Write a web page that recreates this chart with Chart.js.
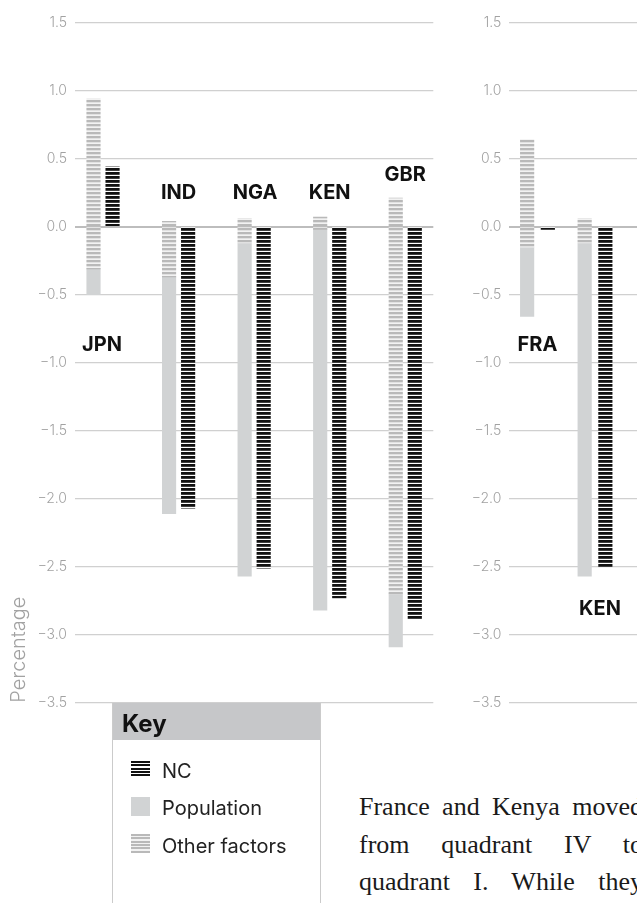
<!DOCTYPE html>
<html>
<head>
<meta charset="utf-8">
<script src="https://cdn.jsdelivr.net/npm/chart.js@4.4.1/dist/chart.umd.min.js"></script>
<style>
  html, body { margin: 0; padding: 0; background: #fff; }
  body { width: 637px; height: 903px; position: relative; overflow: hidden; font-family: Inter, "Noto Sans", sans-serif; }
  canvas { position: absolute; top: 0; }
  #leftChart { left: 0; }
  #rightChart { left: 440px; }
  .key { position: absolute; left: 112px; top: 703px; width: 207px; height: 220px;
         border-left: 1.5px solid #cbcbcb; border-right: 1.5px solid #cbcbcb; }
  .key-head { position: absolute; left: 0; top: 0; width: 100%; height: 37px; background: #c6c7c9; }
  .abs { position: absolute; white-space: nowrap; }
  .key-title { left: 122px; top: 709px; line-height: 30px; font-size: 24px; font-weight: 700; color: #111; }
  .key-text { left: 162px; line-height: 24px; font-size: 20px; color: #222; }
  .sw { position: absolute; left: 131px; width: 19px; }
  .sw.nc { background: repeating-linear-gradient(to bottom, #111 0 2.2px, #fff 2.2px 3.3px); }
  .sw.pop { background: #d1d3d4; }
  .sw.oth { background: repeating-linear-gradient(to bottom, #b9b9b9 0 2px, #f2f2f2 2px 3.3px); }
  .note { position: absolute; left: 359px; top: 788px; width: 284px; font-family: "Liberation Serif", serif;
          font-size: 26px; line-height: 37.5px; color: #1a1a1a; text-align: justify; text-align-last: justify; }
</style>
</head>
<body>
<canvas id="leftChart" width="440" height="720"></canvas>
<canvas id="rightChart" width="197" height="720"></canvas>

<div class="key"><div class="key-head"></div></div>
<span class="abs key-title">Key</span>
<i class="sw nc" style="top:761px;height:16px"></i>
<span class="abs key-text" style="top:759px">NC</span>
<i class="sw pop" style="top:797px;height:19px"></i>
<span class="abs key-text" style="top:796px">Population</span>
<i class="sw oth" style="top:834px;height:19px"></i>
<span class="abs key-text" style="top:834px">Other factors</span>

<div class="note">France and Kenya moved<br>from quadrant IV to<br>quadrant I. While they</div>

<script>
// ===============================
// DATA
// ===============================
const yTicks = [1.5, 1.0, 0.5, 0.0, -0.5, -1.0, -1.5, -2.0, -2.5, -3.0, -3.5];

// left panel
const leftCountries = ["JPN", "IND", "NGA", "KEN", "GBR"];
const leftOtherUp = [0.94, 0.04, 0.06, 0.07, 0.21];
const leftOtherDown = [-0.31, -0.37, -0.12, -0.02, -2.70];
const leftPopulation = [-0.19, -1.74, -2.45, -2.80, -0.39];
const leftNC = [0.44, -2.07, -2.51, -2.73, -2.89];
const leftLabelAt = [-0.87, 0.25, 0.25, 0.25, 0.38];

// right panel
const rightCountries = ["FRA", "KEN"];
const rightOtherUp = [0.64, 0.06];
const rightOtherDown = [-0.15, -0.12];
const rightPopulation = [-0.51, -2.45];
const rightNC = [-0.02, -2.50];
const rightLabelAt = [-0.87, -2.81];

Chart.defaults.font.family = "Inter, 'Noto Sans', sans-serif";

// striped fills
function stripes(canvas, fg, bg, h, period) {
  const c = document.createElement("canvas");
  c.width = 8; c.height = period;
  const g = c.getContext("2d");
  g.fillStyle = bg; g.fillRect(0, 0, 8, period);
  g.fillStyle = fg; g.fillRect(0, 0, 8, h);
  return canvas.getContext("2d").createPattern(c, "repeat");
}

// country names over / under the bars
const countryLabels = {
  id: "countryLabels",
  afterDatasetsDraw(chart, args, o) {
    const { ctx, scales: { x, y } } = chart;
    ctx.save();
    ctx.font = "bold 20px Inter, 'Noto Sans', sans-serif";
    ctx.fillStyle = "#111";
    ctx.textAlign = "center";
    ctx.textBaseline = "middle";
    o.names.forEach((n, i) => ctx.fillText(n, x.getPixelForValue(i) + (o.nudge[i] || 0), y.getPixelForValue(o.at[i])));
    ctx.restore();
  }
};

function buildPanel(id, names, up, down, pop, nc, labelAt, cfg) {
  const el = document.getElementById(id);
  const otherFill = stripes(el, "#b9b9b9", "#f2f2f2", 2.3, 4);
  const ncFill = stripes(el, "#111111", "#ffffff", 2.8, 4);
  const at = (arr, dx) => arr.map((v, i) => ({ x: i + dx, y: v }));

  return new Chart(el, {
    type: "bar",
    data: {
      datasets: [
        { label: "Other factors", data: at(up, -cfg.offset), backgroundColor: otherFill, stack: "parts" },
        { label: "Other factors ", data: at(down, -cfg.offset), backgroundColor: otherFill, stack: "parts" },
        { label: "Population", data: at(pop, -cfg.offset), backgroundColor: "#d1d3d4", stack: "parts" },
        { label: "NC", data: at(nc, cfg.offset), backgroundColor: ncFill, stack: "nc" }
      ]
    },
    options: {
      animation: false,
      responsive: false,
      devicePixelRatio: 1,
      layout: { padding: { top: 22.7, bottom: 17.3, left: 0, right: cfg.padRight } },
      datasets: { bar: { grouped: false, barThickness: 13.5, borderWidth: 0 } },
      plugins: {
        legend: { display: false },
        tooltip: { enabled: false },
        countryLabels: { names, at: labelAt, nudge: cfg.nudge }
      },
      scales: {
        x: { type: "linear", min: cfg.xMin, max: cfg.xMax, offset: false, display: false },
        y: {
          stacked: true,
          min: -3.5,
          max: 1.5,
          z: 1,
          afterFit: s => { s.width = cfg.axisWidth; },
          afterBuildTicks: s => { s.ticks = yTicks.map(v => ({ value: v })); },
          border: { display: false },
          grid: {
            drawTicks: false,
            color: c => c.tick && c.tick.value === 0 ? "#bdbdbd" : "#d0d0d0",
            lineWidth: c => c.tick && c.tick.value === 0 ? 2 : 1.2
          },
          ticks: {
            padding: 8,
            color: "#a2a2a2",
            font: { size: 14, weight: "300" },
            callback: v => (v < 0 ? "\u2212" : "") + Math.abs(v).toFixed(1)
          },
          title: {
            display: cfg.title,
            text: "Percentage",
            align: "start",
            color: "#a2a2a2",
            font: { size: 20, weight: "300" },
            padding: { top: 6.5, bottom: 0 }
          }
        }
      }
    },
    plugins: [countryLabels]
  });
}

buildPanel("leftChart", leftCountries, leftOtherUp, leftOtherDown, leftPopulation, leftNC, leftLabelAt,
  { offset: 0.126, xMin: -0.371, xMax: 4.371, axisWidth: 75, padRight: 6.7, title: true, nudge: [-1, 0, 1, 0, 0] });

buildPanel("rightChart", rightCountries, rightOtherUp, rightOtherDown, rightPopulation, rightNC, rightLabelAt,
  { offset: 0.18, xMin: -0.49, xMax: 1.73, axisWidth: 69.3, padRight: 0, title: false, nudge: [0, 5] });
</script>
</body>
</html>
